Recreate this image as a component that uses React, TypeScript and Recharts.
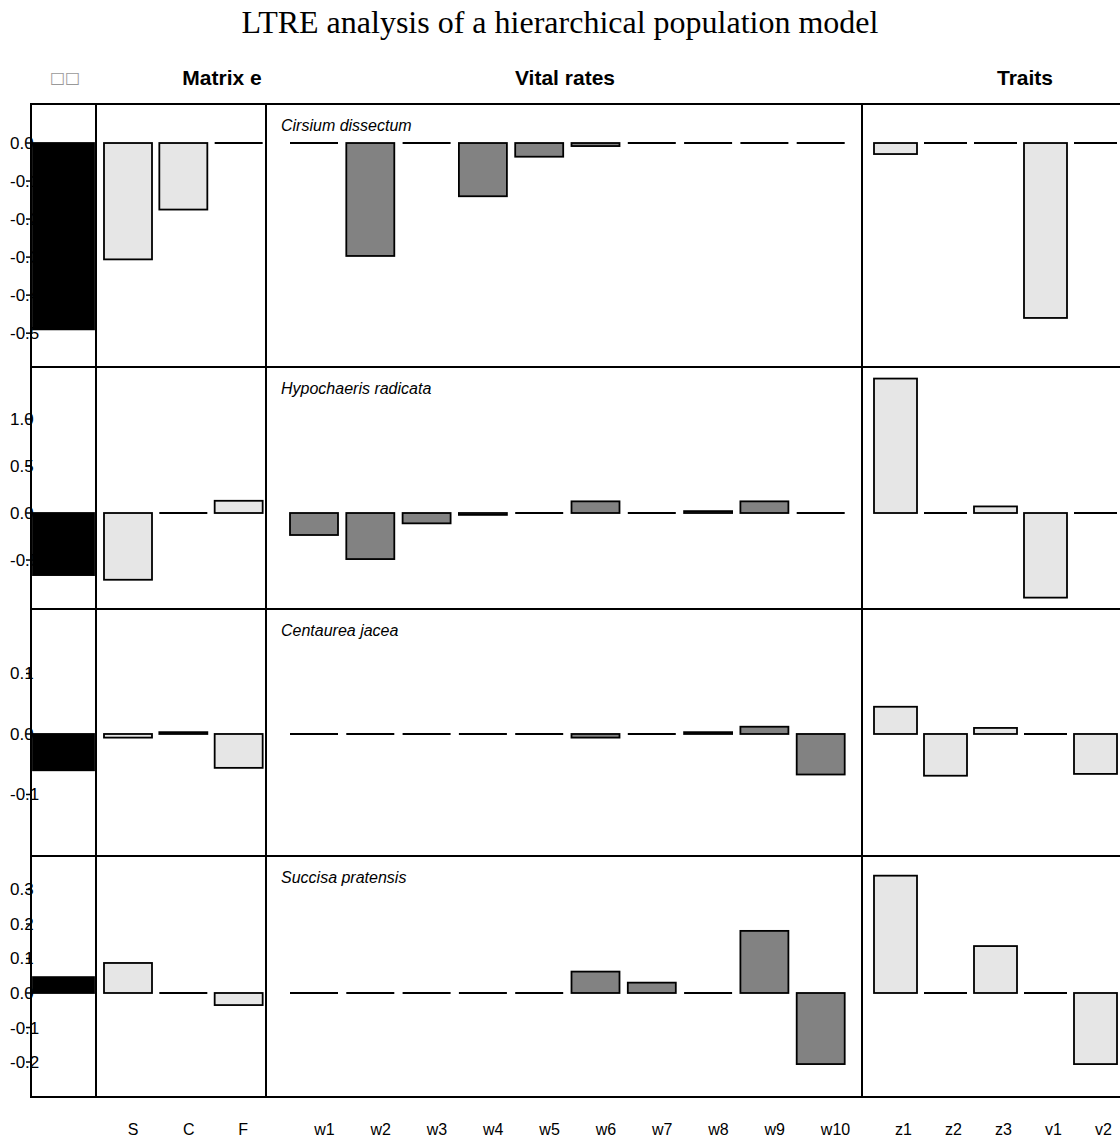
import React from "react";
import { BarChart, Bar, XAxis, YAxis } from "recharts";

type Row = { name: string; value: number };

const speciesNames = [
  "Cirsium dissectum",
  "Hypochaeris radicata",
  "Centaurea jacea",
  "Succisa pratensis",
];

const matrixLabels = ["S", "C", "F"];
const vitalLabels = ["w1", "w2", "w3", "w4", "w5", "w6", "w7", "w8", "w9", "w10"];
const traitLabels = ["z1", "z2", "z3", "v1", "v2"];

// one value per species (rows)
const lambdaValues = [-0.49, -0.66, -0.06, 0.046];

const matrixValues = [
  [-0.306, -0.175, 0],
  [-0.71, 0, 0.13],
  [-0.006, 0.003, -0.056],
  [0.087, 0, -0.035],
];

const vitalValues = [
  [0, -0.297, 0, -0.14, -0.036, -0.008, 0, 0, 0, 0],
  [-0.234, -0.49, -0.11, -0.02, 0, 0.124, 0, 0.02, 0.124, 0],
  [0, 0, 0, 0, 0, -0.006, 0, 0.003, 0.012, -0.067],
  [0, 0, 0, 0, 0, 0.062, 0.03, 0, 0.18, -0.206],
];

const traitValues = [
  [-0.029, 0, 0, -0.46, 0],
  [1.43, 0, 0.07, -0.9, 0],
  [0.045, -0.069, 0.01, 0, -0.066],
  [0.34, 0, 0.136, 0, -0.206],
];

const yDomains: [number, number][] = [
  [-0.589, 0.1026],
  [-1.021, 1.553],
  [-0.2017, 0.2066],
  [-0.3014, 0.397],
];

const yTicks = [
  [0, -0.1, -0.2, -0.3, -0.4, -0.5],
  [1, 0.5, 0, -0.5],
  [0.1, 0, -0.1],
  [0.3, 0.2, 0.1, 0, -0.1, -0.2],
];

const rowTops = [104, 367, 609, 856];
const rowBottoms = [367, 609, 856, 1097];

const FONT = '"Liberation Sans", Arial, sans-serif';
const LIGHT = "#e6e6e6";
const MID = "#828282";

const toRows = (labels: string[], values: number[]): Row[] =>
  labels.map((name, i) => ({ name, value: values[i] }));

const BarShape = (props: any) => {
  const { x, y, width, height, fill } = props;
  const h = Math.abs(height || 0);
  const top = height < 0 ? y + height : y;
  if (h < 0.6) {
    return <line x1={x} x2={x + width} y1={y} y2={y} stroke="#000" strokeWidth={2} />;
  }
  return (
    <rect x={x} y={top} width={width} height={h} fill={fill} stroke="#000" strokeWidth={1.8} />
  );
};

const XTick = (props: any) => {
  const { x, payload } = props;
  return (
    <text x={x} y={1135 - 856} textAnchor="start" fontSize={16} fontFamily={FONT} fill="#000">
      {payload.value}
    </text>
  );
};

const YTick = (props: any) => {
  const { y, payload } = props;
  return (
    <text x={10} y={y} dy={6} textAnchor="start" fontSize={17} fontFamily={FONT} fill="#000">
      {Number(payload.value).toFixed(1)}
    </text>
  );
};

type PanelProps = {
  data: Row[];
  left: number;
  row: number;
  width: number;
  fill: string;
  barSize: number;
  padding: { left: number; right: number };
  withY?: boolean;
};

const Panel = ({ data, left, row, width, fill, barSize, padding, withY }: PanelProps) => {
  const top = rowTops[row];
  const plotH = rowBottoms[row] - top;
  const showX = row === 3 && !withY;
  const height = showX ? plotH + 46 : plotH;
  return (
    <div style={{ position: "absolute", left, top }}>
      <BarChart width={width} height={height} data={data} margin={{ top: 0, right: 0, bottom: 0, left: 0 }}>
        <YAxis
          type="number"
          domain={yDomains[row]}
          allowDataOverflow
          ticks={yTicks[row]}
          hide={!withY}
          width={withY ? 31 : 0}
          axisLine={{ stroke: "#000", strokeWidth: 2 }}
          tickLine={{ stroke: "#000", strokeWidth: 1.5 }}
          tickSize={5}
          tick={<YTick />}
          interval={0}
          zIndex={-1}
        />
        <XAxis
          dataKey="name"
          type="category"
          hide={!showX}
          height={showX ? 46 : 0}
          padding={padding}
          axisLine={false}
          tickLine={false}
          tick={<XTick />}
          interval={0}
        />
        <Bar dataKey="value" fill={fill} barSize={barSize} shape={<BarShape />} isAnimationActive={false} />
      </BarChart>
    </div>
  );
};

const Line = ({ left, top, width, height }: { left: number; top: number; width: number; height: number }) => (
  <div style={{ position: "absolute", left, top, width, height, background: "#000" }} />
);

const header = (text: string, cx: number, extra: React.CSSProperties = {}) => (
  <div
    style={{
      position: "absolute",
      left: cx - 100,
      width: 200,
      top: 66,
      textAlign: "center",
      fontFamily: FONT,
      fontWeight: "bold",
      fontSize: 21,
      lineHeight: "24px",
      ...extra,
    }}
  >
    {text}
  </div>
);

export default function App() {
  return (
    <div
      style={{
        position: "absolute",
        left: 0,
        top: 0,
        width: 1120,
        height: 1143,
        overflow: "hidden",
        background: "#fff",
      }}
    >
      <div
        style={{
          position: "absolute",
          left: 0,
          width: 1120,
          top: 4,
          textAlign: "center",
          fontFamily: '"Liberation Serif", "Times New Roman", serif',
          fontSize: 32,
          lineHeight: "36px",
        }}
      >
        LTRE analysis of a hierarchical population model
      </div>
      {header("□□", 65, { fontWeight: "normal", color: "#999", fontSize: 16, fontFamily: '"DejaVu Sans", sans-serif' })}
      {header("Matrix e", 222)}
      {header("Vital rates", 565)}
      {header("Traits", 1025)}

      {speciesNames.map((sp, r) => (
        <React.Fragment key={sp}>
          <Panel
            data={[{ name: "lambda", value: lambdaValues[r] }]}
            left={0}
            row={r}
            width={96}
            fill="#000"
            barSize={61}
            padding={{ left: 0, right: 0 }}
            withY
          />
          <Panel
            data={toRows(matrixLabels, matrixValues[r])}
            left={96}
            row={r}
            width={170}
            fill={LIGHT}
            barSize={48}
            padding={{ left: 4, right: 0 }}
          />
          <Panel
            data={toRows(vitalLabels, vitalValues[r])}
            left={266}
            row={r}
            width={596}
            fill={MID}
            barSize={48}
            padding={{ left: 20, right: 13 }}
          />
          <Panel
            data={toRows(traitLabels, traitValues[r])}
            left={862}
            row={r}
            width={262}
            fill={LIGHT}
            barSize={43}
            padding={{ left: 8, right: 4 }}
          />
          <div
            style={{
              position: "absolute",
              left: 281,
              top: rowTops[r] + 12,
              fontFamily: FONT,
              fontStyle: "italic",
              fontSize: 16,
              lineHeight: "20px",
            }}
          >
            {sp}
          </div>
        </React.Fragment>
      ))}

      {/* panel frames */}
      <Line left={30} top={103} width={1100} height={2} />
      <Line left={30} top={1096} width={1100} height={2} />
      {rowBottoms.slice(0, 3).map((y) => (
        <Line key={y} left={30} top={y - 1} width={1100} height={2} />
      ))}
      {[31, 96, 266, 862].map((x) => (
        <Line key={x} left={x - 1} top={103} width={2} height={995} />
      ))}
    </div>
  );
}
